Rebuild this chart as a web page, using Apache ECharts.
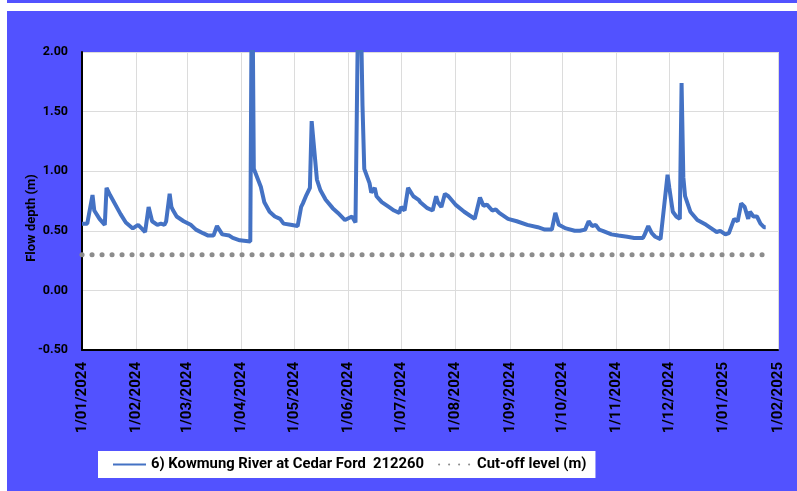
<!DOCTYPE html>
<html>
<head>
<meta charset="utf-8">
<script src="https://cdn.jsdelivr.net/npm/echarts@6/dist/echarts.min.js"></script>
<style>
  html, body { margin: 0; padding: 0; background: #fff; }
  #chart { position: absolute; left: 0; top: 0; width: 797px; height: 491px; }
  .strip { position: absolute; background: #fff; z-index: 5; }
</style>
</head>
<body>
<div id="chart"></div>
<div class="strip" style="left:0;top:3px;width:797px;height:8px"></div>
<div class="strip" style="left:0;top:0;width:7px;height:491px"></div>
<script>
// daily flow depth readings (m)
const flowDates = [
  "2024-01-01", "2024-01-04", "2024-01-07", "2024-01-08", "2024-01-11", "2024-01-14",
  "2024-01-15", "2024-01-17", "2024-01-18", "2024-01-23", "2024-01-26", "2024-01-30",
  "2024-02-02", "2024-02-04", "2024-02-06", "2024-02-08", "2024-02-10", "2024-02-13",
  "2024-02-15", "2024-02-17", "2024-02-18", "2024-02-20", "2024-02-21", "2024-02-22",
  "2024-02-24", "2024-02-28", "2024-03-03", "2024-03-06", "2024-03-10", "2024-03-13",
  "2024-03-16", "2024-03-17", "2024-03-18", "2024-03-21", "2024-03-25", "2024-03-27",
  "2024-03-31", "2024-04-06", "2024-04-07", "2024-04-08", "2024-04-12", "2024-04-14",
  "2024-04-17", "2024-04-20", "2024-04-23", "2024-04-25", "2024-04-29", "2024-05-03",
  "2024-05-05", "2024-05-06", "2024-05-08", "2024-05-10", "2024-05-11", "2024-05-12",
  "2024-05-14", "2024-05-16", "2024-05-19", "2024-05-23", "2024-05-26", "2024-05-30",
  "2024-06-03", "2024-06-05", "2024-06-06", "2024-06-07", "2024-06-08", "2024-06-09",
  "2024-06-10", "2024-06-13", "2024-06-14", "2024-06-16", "2024-06-17", "2024-06-20",
  "2024-06-24", "2024-06-27", "2024-06-30", "2024-07-01", "2024-07-03", "2024-07-05",
  "2024-07-08", "2024-07-11", "2024-07-12", "2024-07-16", "2024-07-19", "2024-07-21",
  "2024-07-22", "2024-07-24", "2024-07-26", "2024-07-28", "2024-08-01", "2024-08-06",
  "2024-08-10", "2024-08-12", "2024-08-15", "2024-08-17", "2024-08-19", "2024-08-22",
  "2024-08-24", "2024-08-26", "2024-08-31", "2024-09-05", "2024-09-11", "2024-09-17",
  "2024-09-21", "2024-09-25", "2024-09-27", "2024-09-29", "2024-10-03", "2024-10-08",
  "2024-10-11", "2024-10-14", "2024-10-16", "2024-10-18", "2024-10-20", "2024-10-22",
  "2024-10-24", "2024-10-29", "2024-11-02", "2024-11-03", "2024-11-07", "2024-11-11",
  "2024-11-16", "2024-11-17", "2024-11-19", "2024-11-21", "2024-11-23", "2024-11-26",
  "2024-11-27", "2024-11-30", "2024-12-01", "2024-12-03", "2024-12-05", "2024-12-07",
  "2024-12-08", "2024-12-09", "2024-12-10", "2024-12-13", "2024-12-17", "2024-12-22",
  "2024-12-26", "2024-12-28", "2024-12-30", "2025-01-02", "2025-01-04", "2025-01-06",
  "2025-01-07", "2025-01-09", "2025-01-11", "2025-01-13", "2025-01-15", "2025-01-16",
  "2025-01-18", "2025-01-20", "2025-01-22", "2025-01-24", "2025-01-25",
];
const flowValues = [
  0.56, 0.56, 0.80, 0.67, 0.60, 0.55,
  0.86, 0.80, 0.79, 0.64, 0.57, 0.52,
  0.55, 0.52, 0.49, 0.70, 0.58, 0.55,
  0.56, 0.55, 0.58, 0.81, 0.70, 0.67,
  0.62, 0.58, 0.55, 0.51, 0.48, 0.46,
  0.46, 0.45, 0.54, 0.47, 0.46, 0.44,
  0.42, 0.41, 3.00, 1.02, 0.87, 0.74,
  0.66, 0.62, 0.60, 0.56, 0.55, 0.54,
  0.70, 0.73, 0.80, 0.86, 1.42, 1.42,
  0.93, 0.84, 0.76, 0.69, 0.65, 0.59,
  0.62, 0.57, 0.58, 3.00, 2.40, 1.55,
  1.02, 0.90, 0.82, 0.86, 0.79, 0.74,
  0.70, 0.67, 0.65, 0.70, 0.67, 0.86,
  0.79, 0.76, 0.74, 0.69, 0.67, 0.79,
  0.74, 0.70, 0.81, 0.79, 0.72, 0.66,
  0.62, 0.60, 0.78, 0.71, 0.72, 0.67,
  0.68, 0.65, 0.60, 0.58, 0.55, 0.53,
  0.51, 0.51, 0.65, 0.55, 0.52, 0.50,
  0.50, 0.51, 0.58, 0.54, 0.55, 0.51,
  0.50, 0.47, 0.46, 0.47, 0.45, 0.44,
  0.44, 0.47, 0.54, 0.48, 0.45, 0.43,
  0.42, 0.97, 0.86, 0.66, 0.62, 0.60,
  1.74, 0.95, 0.79, 0.66, 0.59, 0.55,
  0.51, 0.49, 0.50, 0.47, 0.48, 0.56,
  0.60, 0.58, 0.73, 0.70, 0.60, 0.66,
  0.62, 0.62, 0.56, 0.53, 0.53,
];

const cutoffDates = ["2024-01-01", "2025-01-25"];
const cutoffValues = [0.3, 0.3];

// x axis ticks, one per month
const monthTicks = [
  "2024-01-01", "2024-02-01", "2024-03-01", "2024-04-01", "2024-05-01",
  "2024-06-01", "2024-07-01", "2024-08-01", "2024-09-01", "2024-10-01",
  "2024-11-01", "2024-12-01", "2025-01-01", "2025-02-01",
];
const monthLabels = [
  "1/01/2024", "1/02/2024", "1/03/2024", "1/04/2024", "1/05/2024",
  "1/06/2024", "1/07/2024", "1/08/2024", "1/09/2024", "1/10/2024",
  "1/11/2024", "1/12/2024", "1/01/2025", "1/02/2025",
];

const seriesName = "6) Kowmung River at Cedar Ford  212260";
const cutoffName = "Cut-off level (m)";

// parse yyyy-mm-dd as local time (same as echarts does)
const toTime = (s) => {
  const [y, m, d] = s.split("-").map(Number);
  return new Date(y, m - 1, d).getTime();
};
const tickTimes = monthTicks.map(toTime);
const DAY = 86400000;

const chart = echarts.init(document.getElementById("chart"));

chart.setOption({
  backgroundColor: "#5252ff",
  textStyle: { fontFamily: "Roboto" },
  animation: false,
  grid: {
    left: 82,
    right: 19,
    top: 52,
    bottom: 141,
    show: true,
    backgroundColor: "#fff",
    borderWidth: 0,
  },
  legend: {
    left: 98,
    top: 451,
    backgroundColor: "#fff",
    padding: [6, 9, 6, 14],
    itemWidth: 33,
    itemHeight: 16,
    itemGap: 14,
    itemStyle: { opacity: 0 }, // hide the marker, keep only the line
    textStyle: { color: "#000", fontWeight: "bold", fontSize: 14.8 },
    data: [seriesName, cutoffName],
  },
  xAxis: {
    type: "time",
    min: tickTimes[0],
    max: tickTimes[tickTimes.length - 1],
    minInterval: 28 * DAY,
    maxInterval: 31 * DAY,
    axisLine: { onZero: false, lineStyle: { color: "#000", width: 2 } },
    axisTick: { show: false },
    axisLabel: {
      rotate: 90,
      margin: 12,
      color: "#000",
      fontWeight: "bold",
      fontSize: 15,
      showMinLabel: true,
      showMaxLabel: true,
      hideOverlap: false,
      formatter: (val) => {
        const i = tickTimes.indexOf(val);
        return i >= 0 ? monthLabels[i] : "";
      },
    },
    splitLine: { show: true, lineStyle: { color: "#dcdcdc", width: 1 } },
  },
  yAxis: {
    type: "value",
    min: -0.5,
    max: 2.0,
    interval: 0.5,
    name: "Flow depth (m)",
    nameLocation: "middle",
    nameGap: 44,
    nameMoveOverlap: false,
    nameTextStyle: {
      color: "#000",
      fontWeight: "bold",
      fontSize: 13,
      padding: [0, 34, 0, 0],
    },
    axisLine: { show: true, lineStyle: { color: "#000", width: 2 } },
    axisTick: { show: false },
    axisLabel: {
      color: "#000",
      fontWeight: "bold",
      fontSize: 12.5,
      margin: 14,
      formatter: (v) => v.toFixed(2),
    },
    splitLine: { lineStyle: { color: "#dcdcdc", width: 1 } },
  },
  series: [
    {
      name: seriesName,
      type: "line",
      data: flowDates.map((d, i) => [d, flowValues[i]]),
      symbol: "none",
      clip: true,
      lineStyle: { color: "#4472c4", width: 4 },
      itemStyle: { color: "#4472c4" },
      z: 3,
    },
    {
      name: cutoffName,
      type: "line",
      data: cutoffDates.map((d, i) => [d, cutoffValues[i]]),
      symbol: "none",
      lineStyle: {
        color: "#8c8c8c",
        width: 5,
        type: [0.1, 9.9],
        cap: "round",
      },
      itemStyle: { color: "#8c8c8c" },
      z: 2,
    },
  ],
});
</script>
</body>
</html>
